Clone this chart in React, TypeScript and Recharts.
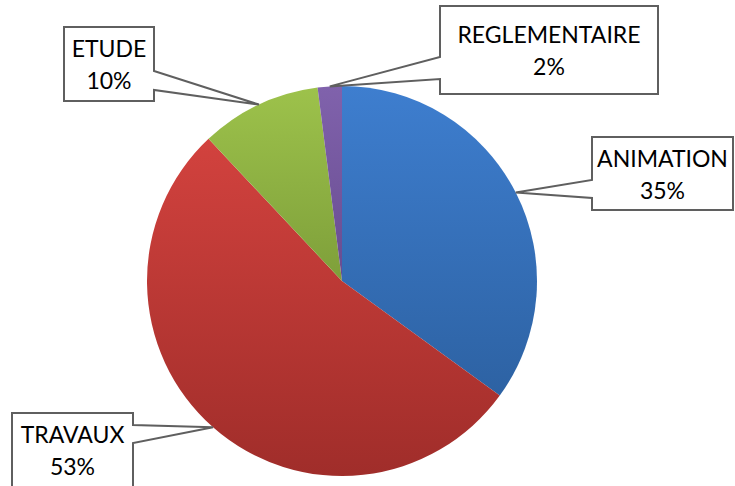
import { PieChart, Pie, Cell } from 'recharts';

// parts du budget
const categories = ['ANIMATION', 'TRAVAUX', 'ETUDE', 'REGLEMENTAIRE'];
const shares = [35, 53, 10, 2];

const data = categories.map((name, i) => ({ name, value: shares[i] }));

// couleurs haut / bas du dégradé de chaque part
const gradients = [
  ['#3E7ECF', '#2D62A3'],
  ['#D2423E', '#A02D2A'],
  ['#9DC24B', '#7E9F3A'],
  ['#8062AC', '#684C90'],
];

// boîtes des étiquettes (placement manuel comme dans Excel)
const boxes = [
  { x: 592, y: 137, w: 141, h: 73, side: 'left', w1: 43, w2: 61 },
  { x: 12, y: 413, w: 121, h: 74, side: 'right', w1: 12, w2: 30 },
  { x: 64, y: 27, w: 90, h: 74, side: 'right', w1: 44, w2: 63 },
  { x: 440, y: 6, w: 218, h: 88, side: 'left', w1: 51, w2: 73 },
];

const RADIAN = Math.PI / 180;

const renderCallout = (props: any) => {
  const { cx, cy, midAngle, outerRadius, index, name, percent } = props;
  const tx = cx + outerRadius * Math.cos(-midAngle * RADIAN);
  const ty = cy + outerRadius * Math.sin(-midAngle * RADIAN);
  const b = boxes[index];
  const { x, y, w, h } = b;
  let d = '';
  if (b.side === 'right') {
    d = `M${x},${y} L${x + w},${y} L${x + w},${y + b.w1} L${tx},${ty} L${x + w},${y + b.w2} L${x + w},${y + h} L${x},${y + h} Z`;
  } else {
    d = `M${x},${y} L${x + w},${y} L${x + w},${y + h} L${x},${y + h} L${x},${y + b.w2} L${tx},${ty} L${x},${y + b.w1} Z`;
  }
  const mx = x + w / 2;
  const my = y + h / 2;
  return (
    <g key={`callout-${index}`}>
      <path d={d} fill="#fff" stroke="#5f5f5f" strokeWidth={2} />
      <text x={mx} y={my - 7} textAnchor="middle" fontSize={23} fill="#000" fontFamily="Lato, sans-serif">
        {name}
      </text>
      <text x={mx} y={my + 25} textAnchor="middle" fontSize={23} fill="#000" fontFamily="Lato, sans-serif">
        {`${Math.round(percent * 100)}%`}
      </text>
    </g>
  );
};

export default function App() {
  return (
    <div style={{ position: 'absolute', left: 0, top: 0, width: 735, height: 486, background: '#fff' }}>
      <PieChart width={735} height={486} margin={{ top: 0, right: 0, bottom: 0, left: 0 }}>
        <defs>
          {gradients.map((g, i) => (
            <linearGradient key={i} id={`grad${i}`} x1="0" y1="0" x2="0" y2="1">
              <stop offset="0%" stopColor={g[0]} />
              <stop offset="100%" stopColor={g[1]} />
            </linearGradient>
          ))}
        </defs>
        <Pie
          data={data}
          dataKey="value"
          nameKey="name"
          cx={342}
          cy={281}
          outerRadius={195}
          startAngle={90}
          endAngle={-270}
          stroke="none"
          label={renderCallout}
          labelLine={false}
          isAnimationActive={false}
        >
          {data.map((d, i) => (
            <Cell key={d.name} fill={`url(#grad${i})`} />
          ))}
        </Pie>
      </PieChart>
    </div>
  );
}
